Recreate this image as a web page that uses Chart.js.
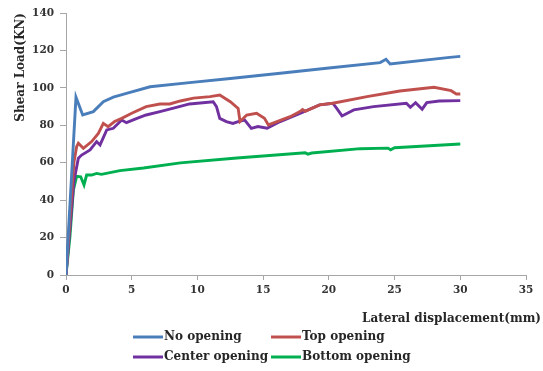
<!DOCTYPE html>
<html>
<head>
<meta charset="utf-8">
<script src="https://cdn.jsdelivr.net/npm/chart.js@4.4.0/dist/chart.umd.min.js"></script>
<style>
  body { margin: 0; background: #fff; }
  canvas { display: block; }
</style>
</head>
<body>
<canvas id="shearChart" width="543" height="371"></canvas>
<script>
// series names
var seriesNames = ["No opening", "Top opening", "Center opening", "Bottom opening"];
var lineColors = ["#4A7EBB", "#C0504D", "#7030A0", "#00B050"];

// lateral displacement (mm) / shear load (KN)
var noOpeningX = [0, 0.76, 1.27, 2.08, 2.84, 3.6, 4.6, 6.4, 9.4, 12.5, 16.3, 20, 23.9, 24.35, 24.66, 29.2, 30];
var noOpeningY = [0, 95, 85.5, 87.3, 92.6, 95, 97, 100.6, 102.8, 105, 107.8, 110.6, 113.5, 115.3, 112.8, 116.3, 116.8];

var topOpeningX = [0, 0.6, 0.81, 0.94, 1.32, 1.95, 2.46, 2.84, 3.2, 3.7, 4.24, 5.0, 6.1, 7.15, 7.9, 8.7, 9.7, 10.96, 11.7, 12.5, 13.1, 13.24, 13.75, 14.5, 15.1, 15.4, 17.05, 17.8, 18.0, 18.2, 19.3, 20.3, 22.9, 25.4, 28.0, 29.3, 29.7, 30];
var topOpeningY = [0, 60, 68.6, 70.4, 67.7, 71.3, 75.7, 81, 79.3, 82, 83.7, 86.4, 90, 91.4, 91.4, 93, 94.5, 95.3, 96.2, 92.6, 89, 82, 85.5, 86.4, 83.7, 80.2, 84.6, 87.3, 88.4, 87.5, 90.9, 91.8, 95.3, 98.3, 100.3, 98.5, 96.7, 96.7];

var centerOpeningX = [0, 0.6, 0.94, 1.19, 1.83, 2.33, 2.59, 3.1, 3.6, 4.24, 4.6, 5.4, 6.1, 7.15, 8.4, 9.4, 11.2, 11.45, 11.7, 12.2, 12.7, 13.1, 13.6, 14.1, 14.6, 15.3, 16.3, 17.8, 19.3, 20.3, 20.6, 21.0, 21.9, 23.4, 25.9, 26.2, 26.6, 27.1, 27.45, 28.4, 30];
var centerOpeningY = [0, 50, 62.4, 64.1, 66.8, 71.3, 69.5, 77.5, 78.4, 82.8, 81.4, 83.7, 85.5, 87.3, 89.6, 91.4, 92.6, 90, 83.7, 82, 81, 82, 82.8, 78.4, 79.3, 78.4, 82, 86.4, 90.9, 91.8, 89, 85, 88.2, 90, 91.8, 89.6, 92.1, 88.6, 92.1, 93, 93.2];

var bottomOpeningX = [0, 0.3, 0.56, 0.81, 1.12, 1.37, 1.57, 1.95, 2.33, 2.7, 4.1, 5.9, 8.7, 13, 18.2, 18.4, 18.7, 22.4, 24.5, 24.7, 25.0, 30];
var bottomOpeningY = [0, 20.5, 45.4, 52.7, 52.5, 48.1, 53.4, 53.4, 54.3, 53.8, 55.8, 57.2, 59.9, 62.5, 65.3, 64.6, 65.2, 67.5, 67.8, 66.9, 68, 70];

var xTitle = "Lateral displacement(mm)";
var yTitle = "Shear Load(KN)";

function toPoints(xs, ys) {
  var pts = [];
  for (var i = 0; i < xs.length; i++) {
    pts.push({x: xs[i], y: ys[i]});
  }
  return pts;
}

var allX = [noOpeningX, topOpeningX, centerOpeningX, bottomOpeningX];
var allY = [noOpeningY, topOpeningY, centerOpeningY, bottomOpeningY];

var datasets = [];
for (var i = 0; i < seriesNames.length; i++) {
  datasets.push({
    label: seriesNames[i],
    data: toPoints(allX[i], allY[i]),
    borderColor: lineColors[i],
    backgroundColor: lineColors[i],
    borderWidth: 2.9,
    pointRadius: 0,
    tension: 0,
    fill: false
  });
}

var serif = '"DejaVu Serif", serif';

// x axis title + 2x2 legend, drawn below the plot
var bottomText = {
  id: 'bottomText',
  afterDraw: function(chart) {
    var ctx = chart.ctx;
    ctx.save();
    ctx.font = 'bold 12px ' + serif;
    ctx.fillStyle = '#262626';
    ctx.textBaseline = 'middle';
    ctx.textAlign = 'right';
    ctx.fillText(xTitle, 541, 319);

    ctx.textAlign = 'left';
    var colX = [133, 271];
    var rowY = [337, 357];
    chart.data.datasets.forEach(function(ds, i) {
      var x = colX[i % 2], y = rowY[Math.floor(i / 2)];
      ctx.strokeStyle = ds.borderColor;
      ctx.lineWidth = 3;
      ctx.beginPath();
      ctx.moveTo(x, y);
      ctx.lineTo(x + 30, y);
      ctx.stroke();
      ctx.fillText(ds.label, x + 31, y);
    });
    ctx.restore();
  }
};

new Chart("shearChart", {
  type: "line",
  data: { datasets: datasets },
  options: {
    responsive: false,
    animation: false,
    layout: { padding: { left: 6, top: 13, right: 17, bottom: 66 } },
    plugins: {
      legend: { display: false },
      tooltip: { enabled: false }
    },
    scales: {
      x: {
        type: "linear",
        min: 0,
        max: 35,
        ticks: { stepSize: 5, color: "#333", padding: 4, font: { family: serif, size: 10.5, weight: "bold" } },
        grid: { display: true, drawOnChartArea: false, tickLength: 5, color: "#a6a6a6" },
        border: { color: "#a6a6a6" },
        afterFit: function(scale) { scale.height = 30; }
      },
      y: {
        min: 0,
        max: 140,
        ticks: { stepSize: 20, color: "#333", padding: 6, font: { family: serif, size: 10.5, weight: "bold" } },
        grid: { display: true, drawOnChartArea: false, tickLength: 6, color: "#a6a6a6" },
        border: { color: "#a6a6a6" },
        title: { display: true, text: yTitle, align: "end", color: "#262626", padding: { top: 8, bottom: 0 }, font: { family: serif, size: 12, weight: "bold" } },
        afterFit: function(scale) { scale.width = 60; }
      }
    }
  },
  plugins: [bottomText]
});
</script>
</body>
</html>
